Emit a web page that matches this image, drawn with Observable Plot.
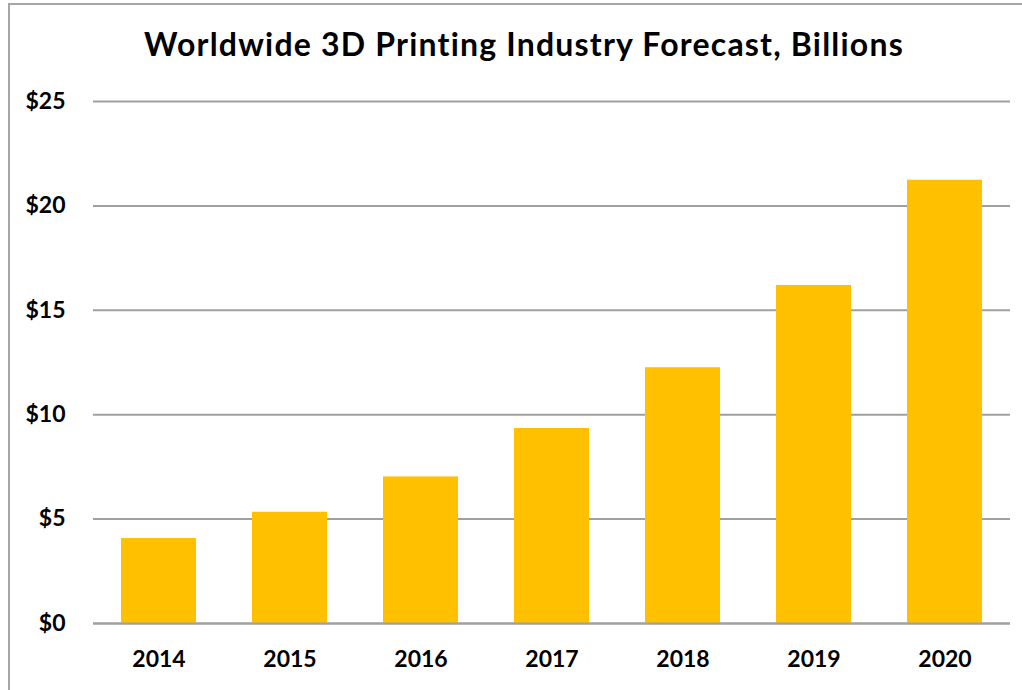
<!DOCTYPE html>
<html>
<head>
<meta charset="utf-8">
<script src="https://cdn.jsdelivr.net/npm/d3@7"></script>
<script src="https://cdn.jsdelivr.net/npm/@observablehq/plot@0.6"></script>
<style>
  html, body { margin: 0; padding: 0; background: #fff; overflow: hidden; width: 1022px; height: 690px; }
  #frame { position: absolute; left: 8px; top: 3px; width: 1100px; height: 800px; border: 2px solid #a6a6a6; box-sizing: border-box; }
  #title { position: absolute; left: 0; top: 28px; width: 1048px; text-align: center; font-family: Lato, sans-serif; font-weight: bold; font-size: 32px; line-height: 1; letter-spacing: 1.2px; color: #000; white-space: nowrap; }
  #chart { position: absolute; left: 0; top: 80px; }
</style>
</head>
<body>
<div id="frame"></div>
<div id="title">Worldwide 3D Printing Industry Forecast, Billions</div>
<div id="chart"></div>
<script>
const years = ["2014", "2015", "2016", "2017", "2018", "2019", "2020"];
const revenue = [4.07, 5.33, 7.02, 9.34, 12.25, 16.19, 21.23];
const yTicks = [0, 5, 10, 15, 20, 25];

const data = years.map((y, i) => ({year: y, value: revenue[i]}));

const chart = Plot.plot({
  width: 1022,
  height: 610,
  marginTop: 21,
  marginBottom: 67,
  marginLeft: 93,
  marginRight: 12,
  style: {fontFamily: "Lato, sans-serif", fontWeight: "bold", fontSize: "23px", color: "#000", background: "transparent"},
  x: {domain: years, paddingInner: 0.43, paddingOuter: 0.215, label: null},
  y: {domain: [0, 25], ticks: yTicks, label: null, tickFormat: d => "$" + d},
  marks: [
    Plot.ruleY(yTicks, {stroke: "#a0a0a0", strokeWidth: 2}),
    Plot.barY(data, {x: "year", y: "value", fill: "#FFC000"}),
    Plot.ruleY([0], {stroke: "#a0a0a0", strokeWidth: 2}),
    Plot.axisY({ticks: yTicks, tickSize: 0, tickPadding: 28, tickFormat: d => "$" + d, label: null, fontSize: 23, fontWeight: "bold"}),
    Plot.axisX({tickSize: 0, tickPadding: 27, label: null, fontSize: 23, fontWeight: "bold"})
  ]
});
document.getElementById("chart").appendChild(chart);
</script>
</body>
</html>
